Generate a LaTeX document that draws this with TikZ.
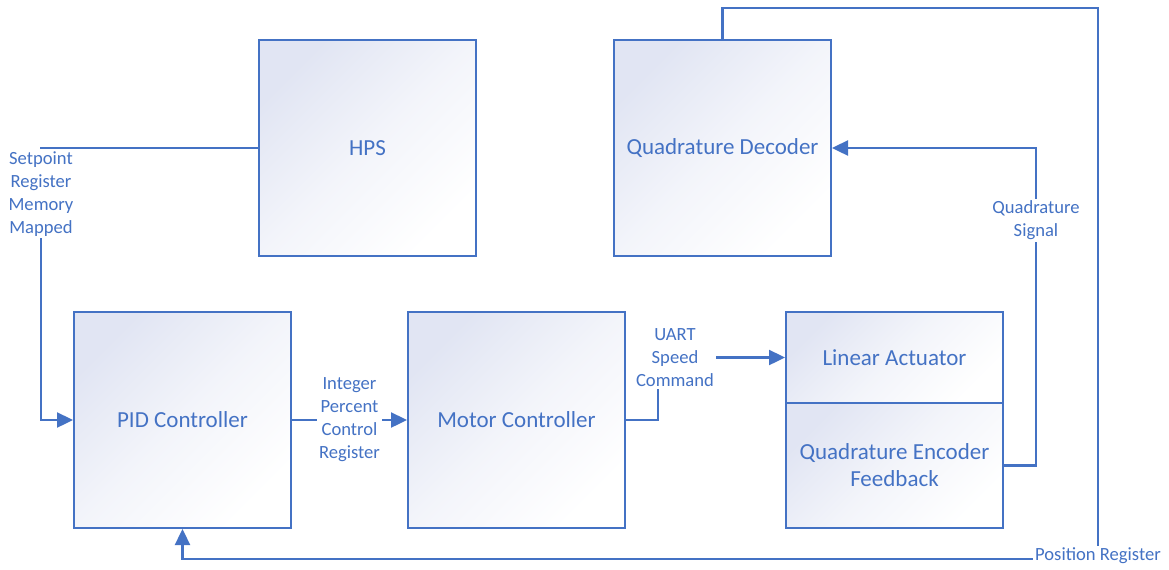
\documentclass[tikz,border=0pt]{standalone}
\usepackage{fontspec}
\setmainfont{Carlito}
\usetikzlibrary{arrows.meta}
\definecolor{lineblue}{HTML}{4472C4}
\definecolor{boxtint}{HTML}{E1E5F3}
\tikzset{
  box/.style={draw=lineblue, line width=1pt, top color=boxtint, bottom color=white,
    middle color=boxtint!40, shading angle=45, minimum width=108.5pt,
    minimum height=108pt, inner sep=0pt,
    text=lineblue, align=center, font=\fontsize{11.5}{13.5}\selectfont},
  lbl/.style={fill=white, text=lineblue, align=center, inner sep=1pt,
    font=\fontsize{9.3}{11.5}\selectfont},
  wire/.style={draw=lineblue, line width=1.2pt},
  arr/.style={wire, -{Triangle[length=8pt,width=7.5pt]}},
}

\begin{document}
\begin{tikzpicture}[x=0.5pt, y=-0.5pt]
  \useasboundingbox (0,0) rectangle (1169,569);

  % Blocks
  \node[box] (hps) at (367.5,148) {HPS};
  \node[box] (qd) at (722.5,148) {Quadrature Decoder};
  \node[box] (pid) at (182.5,420) {PID Controller};
  \node[box] (motor) at (516.5,420) {Motor Controller};
  \node[box, minimum height=45.5pt] (la) at (894.5,357.5) {Linear Actuator};
  \node[box, minimum height=62.5pt] (qef) at (894.5,465.5) {Quadrature Encoder\\Feedback};

  % Signals
  \draw[arr] (hps.west) -- ++(-217,0)
    node[lbl, anchor=north] {Setpoint\\Register\\Memory\\Mapped} |- (pid.west);
  \draw[arr] (pid.east) -- node[lbl] {Integer\\Percent\\Control\\Register} (motor.west);
  \draw[arr] (motor.east) -- ++(32,0)
    |- node[lbl, pos=0.5, xshift=8.5pt] {UART\\Speed\\Command} (la.west);
  \draw[arr] (qef.east) -- ++(32,0)
    |- node[lbl, pos=0.386] {Quadrature\\Signal} (qd.east);

  % Feedback to the PID
  \draw[arr] (qd.north) -- ++(0,-31) -- ++(375.5,0) -- ++(0,551)
    node[lbl, yshift=1.5pt] {Position Register} -| (pid.south);
\end{tikzpicture}
\end{document}
